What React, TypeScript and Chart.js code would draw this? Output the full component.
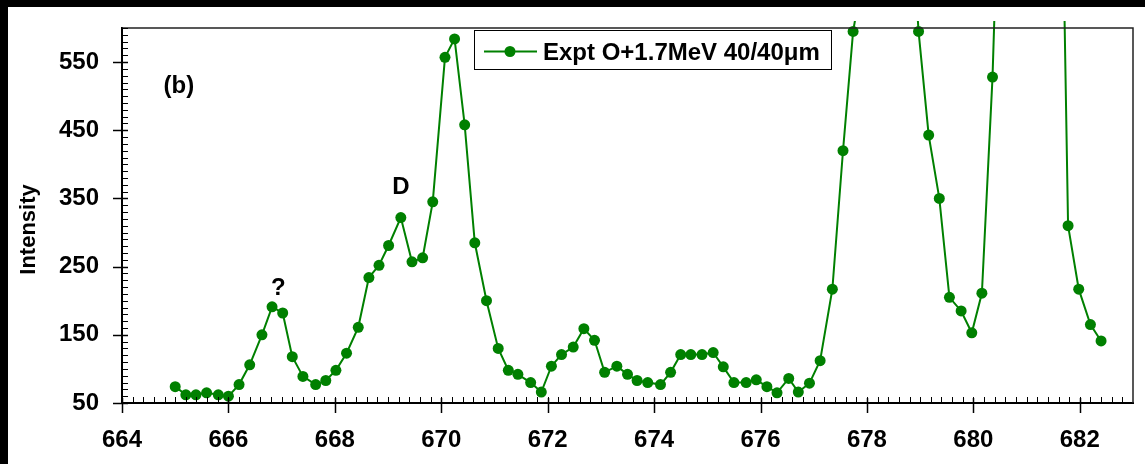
import React, { useEffect, useRef } from "react";
import { Chart, registerables } from "chart.js";

Chart.register(...registerables);

// Wavelength (nm) of each measured point
const wavelengths: number[] = [
  665.0, 665.2, 665.39, 665.59, 665.81, 666.0, 666.2, 666.4, 666.63, 666.82,
  667.02, 667.2, 667.4, 667.64, 667.83, 668.02, 668.22, 668.44, 668.64, 668.83,
  669.01, 669.24, 669.45, 669.65, 669.84, 670.07, 670.25, 670.44, 670.63, 670.85,
  671.07, 671.26, 671.44, 671.68, 671.88, 672.07, 672.26, 672.48, 672.68, 672.88,
  673.07, 673.3, 673.5, 673.68, 673.88, 674.12, 674.31, 674.5, 674.69, 674.9,
  675.11, 675.3, 675.5, 675.73, 675.92, 676.12, 676.31, 676.53, 676.71, 676.92,
  677.12, 677.35, 677.55, 677.74, 677.95, 678.15, 678.35, 678.56, 678.76, 678.97,
  679.16, 679.36, 679.55, 679.77, 679.97, 680.16, 680.36, 680.56, 680.76, 680.97,
  681.17, 681.37, 681.57, 681.78, 681.98, 682.2, 682.4,
];

// Intensity of each point (values above 600 run off the top of the plot)
const intensities: number[] = [
  74, 62, 62, 65, 62, 60, 77, 106, 150, 191,
  182, 118, 89, 77, 83, 98, 123, 161, 234, 252,
  281, 322, 257, 263, 345, 557, 584, 458, 285, 200,
  130, 98, 92, 80, 66, 104, 121, 132, 159, 142,
  95, 104, 92, 83, 80, 77, 95, 121, 121, 121,
  124, 103, 80, 80, 84, 74, 65, 86, 66, 79,
  112, 217, 420, 595, 690, 1150, 1500, 1350, 850, 595,
  443, 350, 205, 185, 153, 211, 528, 1030, 1900, 2500,
  2400, 1800, 1270, 310, 217, 165, 141,
];

const seriesLabel = "Expt O+1.7MeV 40/40\u03bcm";
const xTickValues: number[] = [664, 666, 668, 670, 672, 674, 676, 678, 680, 682];
const yTickValues: number[] = [50, 150, 250, 350, 450, 550];
const yAxisTitle = "Intensity";

const annotationTexts: string[] = ["(b)", "?", "D"];
const annotationX: number[] = [665.07, 666.94, 669.24];
const annotationY: number[] = [505, 209, 357];

const FONT = "'Liberation Sans', Arial, sans-serif";
const GREEN = "#008000";

const decorPlugin = {
  id: "decor",
  afterDraw(chart: any) {
    const { ctx, chartArea: ca, scales } = chart;
    const xs = scales.x;
    const ys = scales.y;
    ctx.save();

    // top and right frame
    ctx.strokeStyle = "#222";
    ctx.lineWidth = 1.5;
    ctx.beginPath();
    ctx.moveTo(ca.left, ca.top);
    ctx.lineTo(ca.right, ca.top);
    ctx.lineTo(ca.right, ca.bottom);
    ctx.stroke();

    // x minor ticks (inside)
    ctx.strokeStyle = "#000";
    ctx.lineWidth = 1;
    for (let i = 0; i <= 95; i++) {
      const v = 664 + i * 0.2;
      const px = Math.round(xs.getPixelForValue(v)) + 0.5;
      if (px > ca.right) break;
      ctx.beginPath();
      ctx.moveTo(px, ca.bottom);
      ctx.lineTo(px, ca.bottom - 6);
      ctx.stroke();
    }
    // y minor ticks (inside)
    for (let v = 50; v <= 600; v += 10) {
      const py = Math.round(ys.getPixelForValue(v)) + 0.5;
      ctx.beginPath();
      ctx.moveTo(ca.left, py);
      ctx.lineTo(ca.left + 6, py);
      ctx.stroke();
    }
    // major ticks
    ctx.lineWidth = 1.5;
    xTickValues.forEach((v) => {
      const px = Math.round(xs.getPixelForValue(v)) + 0.5;
      ctx.beginPath();
      ctx.moveTo(px, ca.bottom - 5);
      ctx.lineTo(px, ca.bottom + 10);
      ctx.stroke();
    });
    yTickValues.forEach((v) => {
      const py = Math.round(ys.getPixelForValue(v)) + 0.5;
      ctx.beginPath();
      ctx.moveTo(ca.left - 9, py);
      ctx.lineTo(ca.left + 6, py);
      ctx.stroke();
    });

    // y axis title
    ctx.fillStyle = "#000";
    ctx.font = `bold 22px ${FONT}`;
    ctx.textAlign = "center";
    ctx.textBaseline = "middle";
    ctx.save();
    ctx.translate(21, 222.5);
    ctx.rotate(-Math.PI / 2);
    ctx.fillText(yAxisTitle, 0, 0);
    ctx.restore();

    // annotations
    ctx.font = `bold 24px ${FONT}`;
    ctx.textAlign = "center";
    ctx.textBaseline = "alphabetic";
    annotationTexts.forEach((t, i) => {
      ctx.fillText(t, xs.getPixelForValue(annotationX[i]), ys.getPixelForValue(annotationY[i]));
    });

    // legend
    const bx = 466.5, by = 23.5, bw = 357, bh = 39;
    ctx.fillStyle = "#fff";
    ctx.fillRect(bx, by, bw, bh);
    ctx.strokeStyle = "#000";
    ctx.lineWidth = 1;
    ctx.strokeRect(bx, by, bw, bh);
    const ly = 44.5;
    ctx.strokeStyle = GREEN;
    ctx.lineWidth = 2;
    ctx.beginPath();
    ctx.moveTo(476, ly);
    ctx.lineTo(529, ly);
    ctx.stroke();
    ctx.fillStyle = GREEN;
    ctx.beginPath();
    ctx.arc(502, ly, 5.5, 0, Math.PI * 2);
    ctx.fill();
    ctx.fillStyle = "#000";
    ctx.font = `bold 24px ${FONT}`;
    ctx.textAlign = "left";
    ctx.textBaseline = "alphabetic";
    ctx.fillText(chart.data.datasets[0].label, 535, 52.5);

    ctx.restore();
  },
};

export default function App() {
  const canvasRef = useRef<HTMLCanvasElement | null>(null);

  useEffect(() => {
    if (!canvasRef.current) return;
    const points = wavelengths.map((w, i) => ({ x: w, y: intensities[i] }));
    const tickFont = { family: FONT, size: 24, weight: "bold" as const };
    const chart = new Chart(canvasRef.current, {
      type: "line",
      data: {
        datasets: [
          {
            label: seriesLabel,
            data: points,
            borderColor: GREEN,
            backgroundColor: GREEN,
            borderWidth: 2,
            pointRadius: 5.5,
            pointBorderWidth: 0,
            pointBackgroundColor: GREEN,
            tension: 0,
            clip: { left: 0, top: 7, right: 0, bottom: 0 } as any,
          },
        ],
      },
      options: {
        animation: false,
        responsive: false,
        devicePixelRatio: 1,
        layout: { padding: { top: 21, right: 12, left: 0, bottom: 0 } },
        plugins: { legend: { display: false }, tooltip: { enabled: false } },
        scales: {
          x: {
            type: "linear",
            min: 664,
            max: 683,
            afterBuildTicks: (s: any) => {
              s.ticks = xTickValues.map((v) => ({ value: v }));
            },
            afterFit: (s: any) => {
              s.height = 61;
              s.paddingLeft = 0;
              s.paddingRight = 0;
              s.paddingTop = 0;
              s.paddingBottom = 0;
            },
            ticks: {
              font: tickFont,
              color: "#000",
              padding: 23,
              maxRotation: 0,
              autoSkip: false,
              callback: (v: any) => String(v),
            },
            grid: { display: false, drawTicks: false },
            border: { display: true, color: "#000", width: 2 },
          },
          y: {
            type: "linear",
            min: 50,
            max: 600,
            afterBuildTicks: (s: any) => {
              s.ticks = yTickValues.map((v) => ({ value: v }));
            },
            afterFit: (s: any) => {
              s.width = 114;
              s.paddingLeft = 0;
              s.paddingRight = 0;
              s.paddingTop = 0;
              s.paddingBottom = 0;
            },
            ticks: {
              font: tickFont,
              color: "#000",
              padding: 23,
              autoSkip: false,
              callback: (v: any) => String(v),
            },
            grid: { display: false, drawTicks: false },
            border: { display: true, color: "#000", width: 2 },
          },
        },
      },
      plugins: [decorPlugin],
    });
    return () => chart.destroy();
  }, []);

  return (
    <div
      style={{
        position: "fixed",
        left: 0,
        top: 0,
        width: 1145,
        height: 464,
        background: "#000",
        overflow: "hidden",
      }}
    >
      <canvas
        ref={canvasRef}
        width={1137}
        height={457}
        style={{
          position: "absolute",
          left: 8,
          top: 7,
          width: 1137,
          height: 457,
          background: "#fff",
          display: "block",
        }}
      />
    </div>
  );
}
